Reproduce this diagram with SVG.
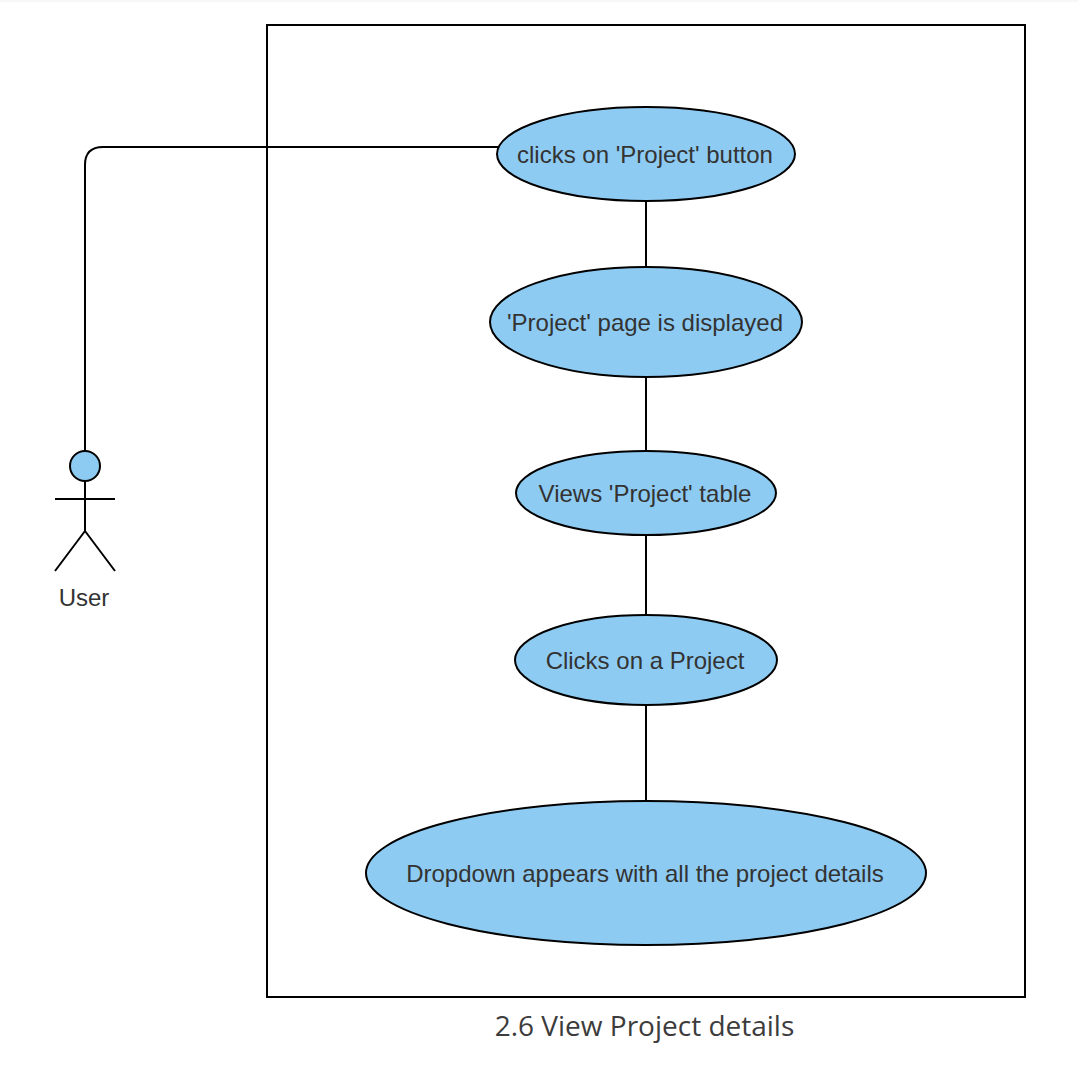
<svg xmlns="http://www.w3.org/2000/svg" width="1078" height="1070" viewBox="0 0 1078 1070">
<style>
.s{fill:none;stroke:#000;stroke-width:2}
.e{fill:#8ecbf2;stroke:#000;stroke-width:2}
text{font-family:"Liberation Sans",Arial,sans-serif;font-size:24px;fill:#333;text-anchor:middle}
</style>
<rect width="1078" height="1070" fill="#fff"/>
<rect width="1078" height="2" fill="#f7f7f7"/>
<g id="boundary"><rect class="s" x="267" y="25" width="758" height="972"/>
<text x="644.5" y="1036" style="font-family:'Open Sans',sans-serif;font-size:28px;fill:#3c3c3c">2.6 View Project details</text></g>
<g id="connectors">
<path class="s" d="M85 451V165Q85 147 103 147H498"/>
<path class="s" d="M646 201V267M646 377V451M646 535V615M646 705V801"/>
</g>
<g id="actor">
<circle class="e" cx="85" cy="466" r="15"/>
<path class="s" d="M85 481V531M55 499H115M85 531L55 571M85 531L115 571"/>
<text x="84" y="606">User</text>
</g>
<g id="n1"><ellipse class="e" cx="646" cy="154" rx="149" ry="47"/><text x="645" y="163">clicks on 'Project' button</text></g>
<g id="n2"><ellipse class="e" cx="646" cy="322" rx="156" ry="55"/><text x="645" y="331">'Project' page is displayed</text></g>
<g id="n3"><ellipse class="e" cx="646" cy="493" rx="130" ry="42"/><text x="645" y="502">Views 'Project' table</text></g>
<g id="n4"><ellipse class="e" cx="646" cy="660" rx="131" ry="45"/><text x="645" y="669">Clicks on a Project</text></g>
<g id="n5"><ellipse class="e" cx="646" cy="873" rx="280" ry="72"/><text x="645" y="882">Dropdown appears with all the project details</text></g>
</svg>
